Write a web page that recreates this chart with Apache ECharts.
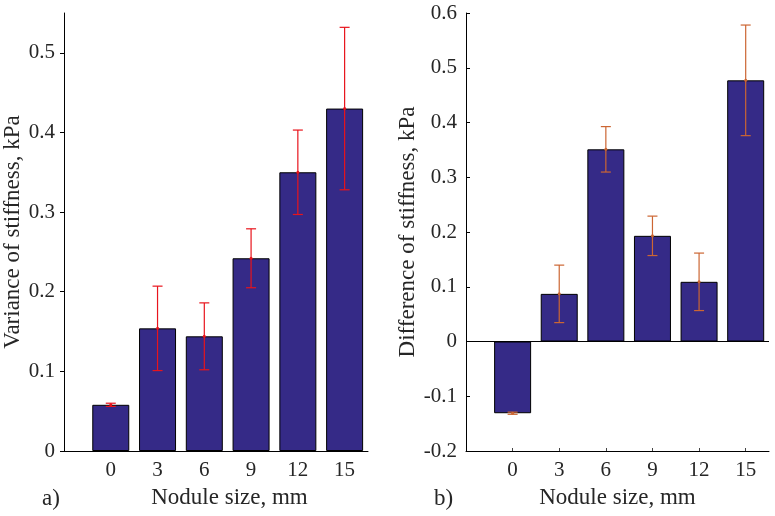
<!DOCTYPE html>
<html>
<head>
<meta charset="utf-8">
<script src="https://cdn.jsdelivr.net/npm/echarts@6/dist/echarts.min.js"></script>
<style>
html,body{margin:0;padding:0;background:#fff;}
#chart{width:775px;height:516px;}
</style>
</head>
<body>
<div id="chart"></div>
<script>
const sizes = [0, 3, 6, 9, 12, 15];
const varianceVals = [0.058, 0.154, 0.144, 0.242, 0.350, 0.430];
const varianceErr = [0.002, 0.053, 0.042, 0.037, 0.053, 0.102];
const diffVals = [-0.131, 0.087, 0.351, 0.193, 0.109, 0.477];
const diffErr = [0.002, 0.0525, 0.0415, 0.036, 0.0525, 0.101];
const varianceTicks = [0, 0.1, 0.2, 0.3, 0.4, 0.5];
const diffTicks = [-0.2, -0.1, 0, 0.1, 0.2, 0.3, 0.4, 0.5, 0.6];
const xTitle = 'Nodule size, mm';
const yTitleA = 'Variance of stiffness, kPa';
const yTitleB = 'Difference of stiffness, kPa';
const panelA = 'a)';
const panelB = 'b)';

const FONT = 'Liberation Serif';
const TXT = '#262626';
const BAR = '#352a87';

function pairs(xs, ys) { return xs.map((x, i) => [x, ys[i]]); }
function triples(xs, ys, es) { return xs.map((x, i) => [x, ys[i], es[i]]); }

function errRender(color) {
  return function (params, api) {
    const x = api.value(0), y = api.value(1), e = api.value(2);
    const c = api.coord([x, y]);
    const t = api.coord([x, y + e]);
    const b = api.coord([x, y - e]);
    const hw = 5;
    const st = { stroke: color, lineWidth: 1.2 };
    return {
      type: 'group',
      children: [
        { type: 'line', shape: { x1: c[0], y1: t[1], x2: c[0], y2: b[1] }, style: st },
        { type: 'line', shape: { x1: c[0] - hw, y1: t[1], x2: c[0] + hw, y2: t[1] }, style: st },
        { type: 'line', shape: { x1: c[0] - hw, y1: b[1], x2: c[0] + hw, y2: b[1] }, style: st },
        { type: 'circle', shape: { cx: c[0], cy: c[1], r: 1.5 }, style: { fill: color } }
      ]
    };
  };
}

function xAxisCfg(gridIndex, padLeft) {
  return {
    type: 'value', gridIndex: gridIndex, min: -3, max: 16.5,
    name: xTitle, nameLocation: 'middle', nameGap: 35,
    nameTextStyle: { fontFamily: FONT, fontSize: 23, color: TXT, padding: [0, 0, 0, padLeft] },
    axisLine: { show: true, onZero: false, lineStyle: { color: '#000', width: 1 } },
    axisTick: { show: true, inside: true, length: 3, customValues: sizes, lineStyle: { color: '#444' } },
    axisLabel: { customValues: sizes, fontFamily: FONT, fontSize: 21, color: TXT, margin: 9 },
    splitLine: { show: false }
  };
}

function yAxisCfg(gridIndex, min, max, ticks, title, gap, inside) {
  return {
    type: 'value', gridIndex: gridIndex, min: min, max: max,
    name: title, nameLocation: 'middle', nameGap: gap, nameRotate: 90,
    nameTextStyle: { fontFamily: FONT, fontSize: 23, color: TXT },
    axisLine: { show: true, onZero: false, lineStyle: { color: '#000', width: 1 } },
    axisTick: { show: true, inside: inside, length: 4, customValues: ticks, lineStyle: { color: '#000' } },
    axisLabel: { customValues: ticks, fontFamily: FONT, fontSize: 21, color: TXT, margin: 9 },
    splitLine: { show: false }
  };
}

const chart = echarts.init(document.getElementById('chart'), null, { renderer: 'canvas' });
chart.setOption({
  animation: false,
  backgroundColor: '#fff',
  grid: [
    { left: 64, top: 13, width: 304, height: 438 },
    { left: 466, top: 13, width: 303, height: 438 }
  ],
  xAxis: [xAxisCfg(0, 27), xAxisCfg(1, 0)],
  yAxis: [
    yAxisCfg(0, 0, 0.55, varianceTicks, yTitleA, 38, false),
    yAxisCfg(1, -0.2, 0.6, diffTicks, yTitleB, 46, true)
  ],
  graphic: [
    { type: 'text', x: 42, y: 499, style: { text: panelA, fontFamily: FONT, fontSize: 23, fill: TXT, verticalAlign: 'middle' } },
    { type: 'text', x: 434, y: 499, style: { text: panelB, fontFamily: FONT, fontSize: 23, fill: TXT, verticalAlign: 'middle' } }
  ],
  series: [
    {
      type: 'bar', xAxisIndex: 0, yAxisIndex: 0, barWidth: 37,
      data: pairs(sizes, varianceVals),
      itemStyle: { color: BAR, borderColor: '#000', borderWidth: 1 }
    },
    {
      type: 'custom', xAxisIndex: 0, yAxisIndex: 0,
      data: triples(sizes, varianceVals, varianceErr),
      encode: { x: 0, y: 1 },
      renderItem: errRender('#e8141c'), z: 5
    },
    {
      type: 'bar', xAxisIndex: 1, yAxisIndex: 1, barWidth: 37,
      data: pairs(sizes, diffVals),
      itemStyle: { color: BAR, borderColor: '#000', borderWidth: 1 },
      markLine: {
        silent: true, symbol: 'none', label: { show: false },
        lineStyle: { color: '#000', type: 'solid', width: 1 },
        data: [{ yAxis: 0 }]
      }
    },
    {
      type: 'custom', xAxisIndex: 1, yAxisIndex: 1,
      data: triples(sizes, diffVals, diffErr),
      encode: { x: 0, y: 1 },
      renderItem: errRender('#cc6633'), z: 5
    }
  ]
});
</script>
</body>
</html>
